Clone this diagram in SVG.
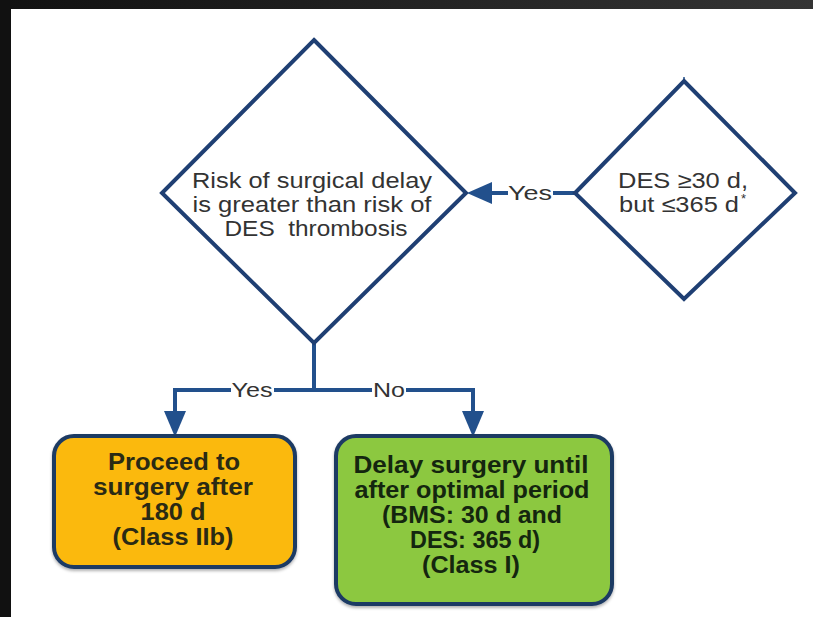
<svg xmlns="http://www.w3.org/2000/svg" width="813" height="617" viewBox="0 0 813 617">
<defs>
<linearGradient id="band" x1="0" y1="0" x2="1" y2="0">
<stop offset="0" stop-color="#111111"/>
<stop offset="1" stop-color="#343434"/>
</linearGradient>
<filter id="sh" x="-10%" y="-10%" width="120%" height="125%">
<feDropShadow dx="0" dy="2" stdDeviation="1.5" flood-color="#000" flood-opacity="0.3"/>
</filter>
</defs>
<style>
.dia{fill:#fff;stroke:#1f3f73;stroke-width:4;stroke-linejoin:miter}
.box{stroke:#1f3a64;stroke-width:4}
.con{fill:none;stroke:#22508c;stroke-width:4}
.head{fill:#22508c}
.t{font-family:"Liberation Sans",Arial,sans-serif;font-size:22px;fill:#333;text-anchor:middle;white-space:pre}
.lbl{font-family:"Liberation Sans",Arial,sans-serif;font-size:21px;fill:#333;text-anchor:middle}
.b{font-family:"Liberation Sans",Arial,sans-serif;font-size:23px;font-weight:bold;fill:#2a2a14;text-anchor:middle}
.bg{font-family:"Liberation Sans",Arial,sans-serif;font-size:23px;font-weight:bold;fill:#14260f;text-anchor:middle}
</style>
<rect x="0" y="0" width="813" height="617" fill="#fff"/>
<rect x="0" y="0" width="813" height="9" fill="url(#band)"/>
<rect x="0" y="0" width="11" height="617" fill="#111"/>

<g id="connectors">
<path class="con" d="M575 193 H553 M508 193 H488"/>
<polygon class="head" points="467,193 492,182 492,204"/>
<text class="lbl" x="530" y="200" textLength="44" lengthAdjust="spacingAndGlyphs">Yes</text>
<path class="con" d="M314 343 V390 M175 390 H231 M274 390 H372 M406 390 H473 M175 388 V414 M473 388 V414"/>
<polygon class="head" points="175,437 164,411 186,411"/>
<polygon class="head" points="473,437 462,411 484,411"/>
<text class="lbl" x="252" y="397" textLength="41" lengthAdjust="spacingAndGlyphs">Yes</text>
<text class="lbl" x="389" y="397" textLength="32" lengthAdjust="spacingAndGlyphs">No</text>
<path d="M684 77 V81" stroke="#22508c" stroke-width="1.5"/>
</g>

<g id="decision-risk">
<polygon class="dia" points="314,40 466,193 314,343 162,193"/>
<text class="t" x="312" y="188" textLength="240" lengthAdjust="spacingAndGlyphs">Risk of surgical delay</text>
<text class="t" x="312" y="212" textLength="239" lengthAdjust="spacingAndGlyphs">is greater than risk of</text>
<text class="t" x="316" y="236" textLength="183" lengthAdjust="spacingAndGlyphs" xml:space="preserve">DES  thrombosis</text>
</g>

<g id="decision-des">
<polygon class="dia" points="684,81 795,193 684,299 575,193"/>
<text class="t" x="683" y="188" textLength="130" lengthAdjust="spacingAndGlyphs">DES ≥30 d,</text>
<text class="t" x="679" y="212" textLength="120" lengthAdjust="spacingAndGlyphs">but ≤365 d</text>
<text x="741" y="203" font-family="Liberation Sans, Arial, sans-serif" font-size="13" fill="#333">*</text>
</g>

<g id="proceed">
<rect class="box" x="54" y="436" width="241" height="131" rx="20" fill="#fbb911" filter="url(#sh)"/>
<text class="b" x="174" y="470" textLength="132" lengthAdjust="spacingAndGlyphs">Proceed to</text>
<text class="b" x="173" y="495" textLength="160" lengthAdjust="spacingAndGlyphs">surgery after</text>
<text class="b" x="173" y="520" textLength="65" lengthAdjust="spacingAndGlyphs">180 d</text>
<text class="b" x="173" y="545" textLength="121" lengthAdjust="spacingAndGlyphs">(Class IIb)</text>
</g>

<g id="delay">
<rect class="box" x="336" y="436" width="276" height="168" rx="20" fill="#8cc83f" filter="url(#sh)"/>
<text class="bg" x="471" y="473" textLength="235" lengthAdjust="spacingAndGlyphs">Delay surgery until</text>
<text class="bg" x="472" y="498" textLength="235" lengthAdjust="spacingAndGlyphs">after optimal period</text>
<text class="bg" x="472" y="523" textLength="180" lengthAdjust="spacingAndGlyphs">(BMS: 30 d and</text>
<text class="bg" x="475" y="548" textLength="130" lengthAdjust="spacingAndGlyphs">DES: 365 d)</text>
<text class="bg" x="471" y="573" textLength="98" lengthAdjust="spacingAndGlyphs">(Class I)</text>
</g>
</svg>
